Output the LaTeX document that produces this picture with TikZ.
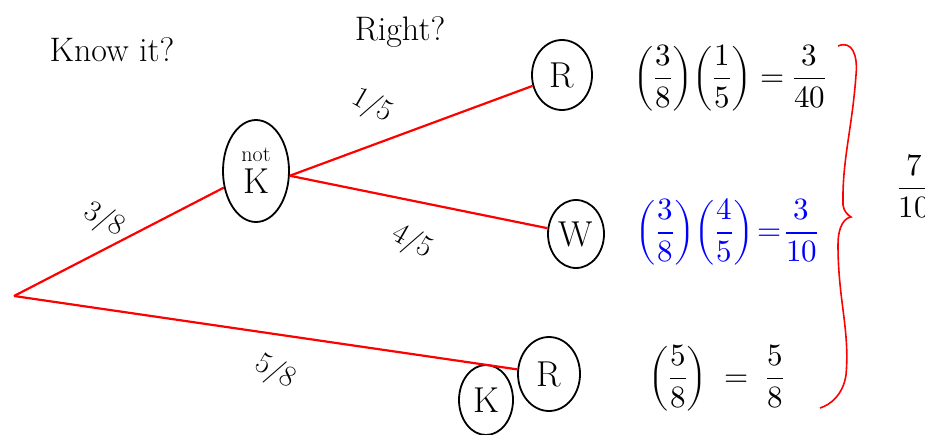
\documentclass[tikz,border=0pt]{standalone}
\usepackage{amsmath}
\usepackage{unicode-math}
\setmathfont{Latin Modern Math}
\usetikzlibrary{shapes.geometric}
\begin{document}
\begin{tikzpicture}[x=1pt,y=-1pt,
  branch/.style={red, line width=2.2pt},
  outcome/.style={draw, ellipse, line width=1.8pt, inner sep=0pt, font=\fontsize{36}{40}\selectfont},
  lbl/.style={font=\fontsize{30}{34}\selectfont, rotate=-30},
  head/.style={font=\fontsize{34}{38}\selectfont},
  eqn/.style={font=\fontsize{31}{35}\selectfont},
  bracestyle/.style={red, line width=1.6pt}]
\useasboundingbox (0,0) rectangle (925,434);

\coordinate (root) at (14,296);
\node[outcome, minimum width=66pt, minimum height=102pt, align=center] (notK) at (256,171) {{\fontsize{22}{24}\selectfont not}\\[-8pt]K};
\node[outcome, minimum width=60pt, minimum height=70pt] (R1) at (562,75) {R};
\node[outcome, minimum width=56pt, minimum height=68pt] (W) at (576,234) {W};
\node[outcome, minimum width=62pt, minimum height=74pt] (R3) at (549,374) {R};
\node[outcome, minimum width=54pt, minimum height=70pt] (K) at (486,400) {K};

\draw[branch] (root) -- (notK);
\draw[branch] (notK.-8) -- (R1);
\draw[branch] (notK.-8) -- (W);
\draw[branch] (root) -- (R3);

\node[head] (know) at (112,50) {Know it?};
\node[head] (right) at (400,32) {Right?};

\node[lbl] (l1) at (372,106) {1/5};
\node[lbl] (l2) at (104,220) {3/8};
\node[lbl] (l3) at (412,242) {4/5};
\node[lbl] (l4) at (275,372) {5/8};

\node[eqn] (e1) at (730,78) {$\left(\dfrac{3}{8}\right)\!\left(\dfrac{1}{5}\right)=\dfrac{3}{40}$};
\node[eqn, blue] (e2) at (727,232) {$\left(\dfrac{3}{8}\right)\!\left(\dfrac{4}{5}\right)\!=\!\dfrac{3}{10}$};
\node[eqn] (e3) at (716,378) {$\left(\dfrac{5}{8}\right)\;=\;\dfrac{5}{8}$};

\draw[bracestyle] (838,46) .. controls (852,40) and (858,55) .. (856,75)
  .. controls (852,130) and (842,160) .. (843,205)
  .. controls (844,212) and (848,215) .. (851,217)
  .. controls (845,218) and (838,225) .. (838,245)
  .. controls (838,300) and (850,330) .. (846,375)
  .. controls (843,395) and (830,405) .. (820,408);

\node[eqn] (sum) at (914,186) {$\dfrac{7}{10}$};
\end{tikzpicture}
\end{document}
